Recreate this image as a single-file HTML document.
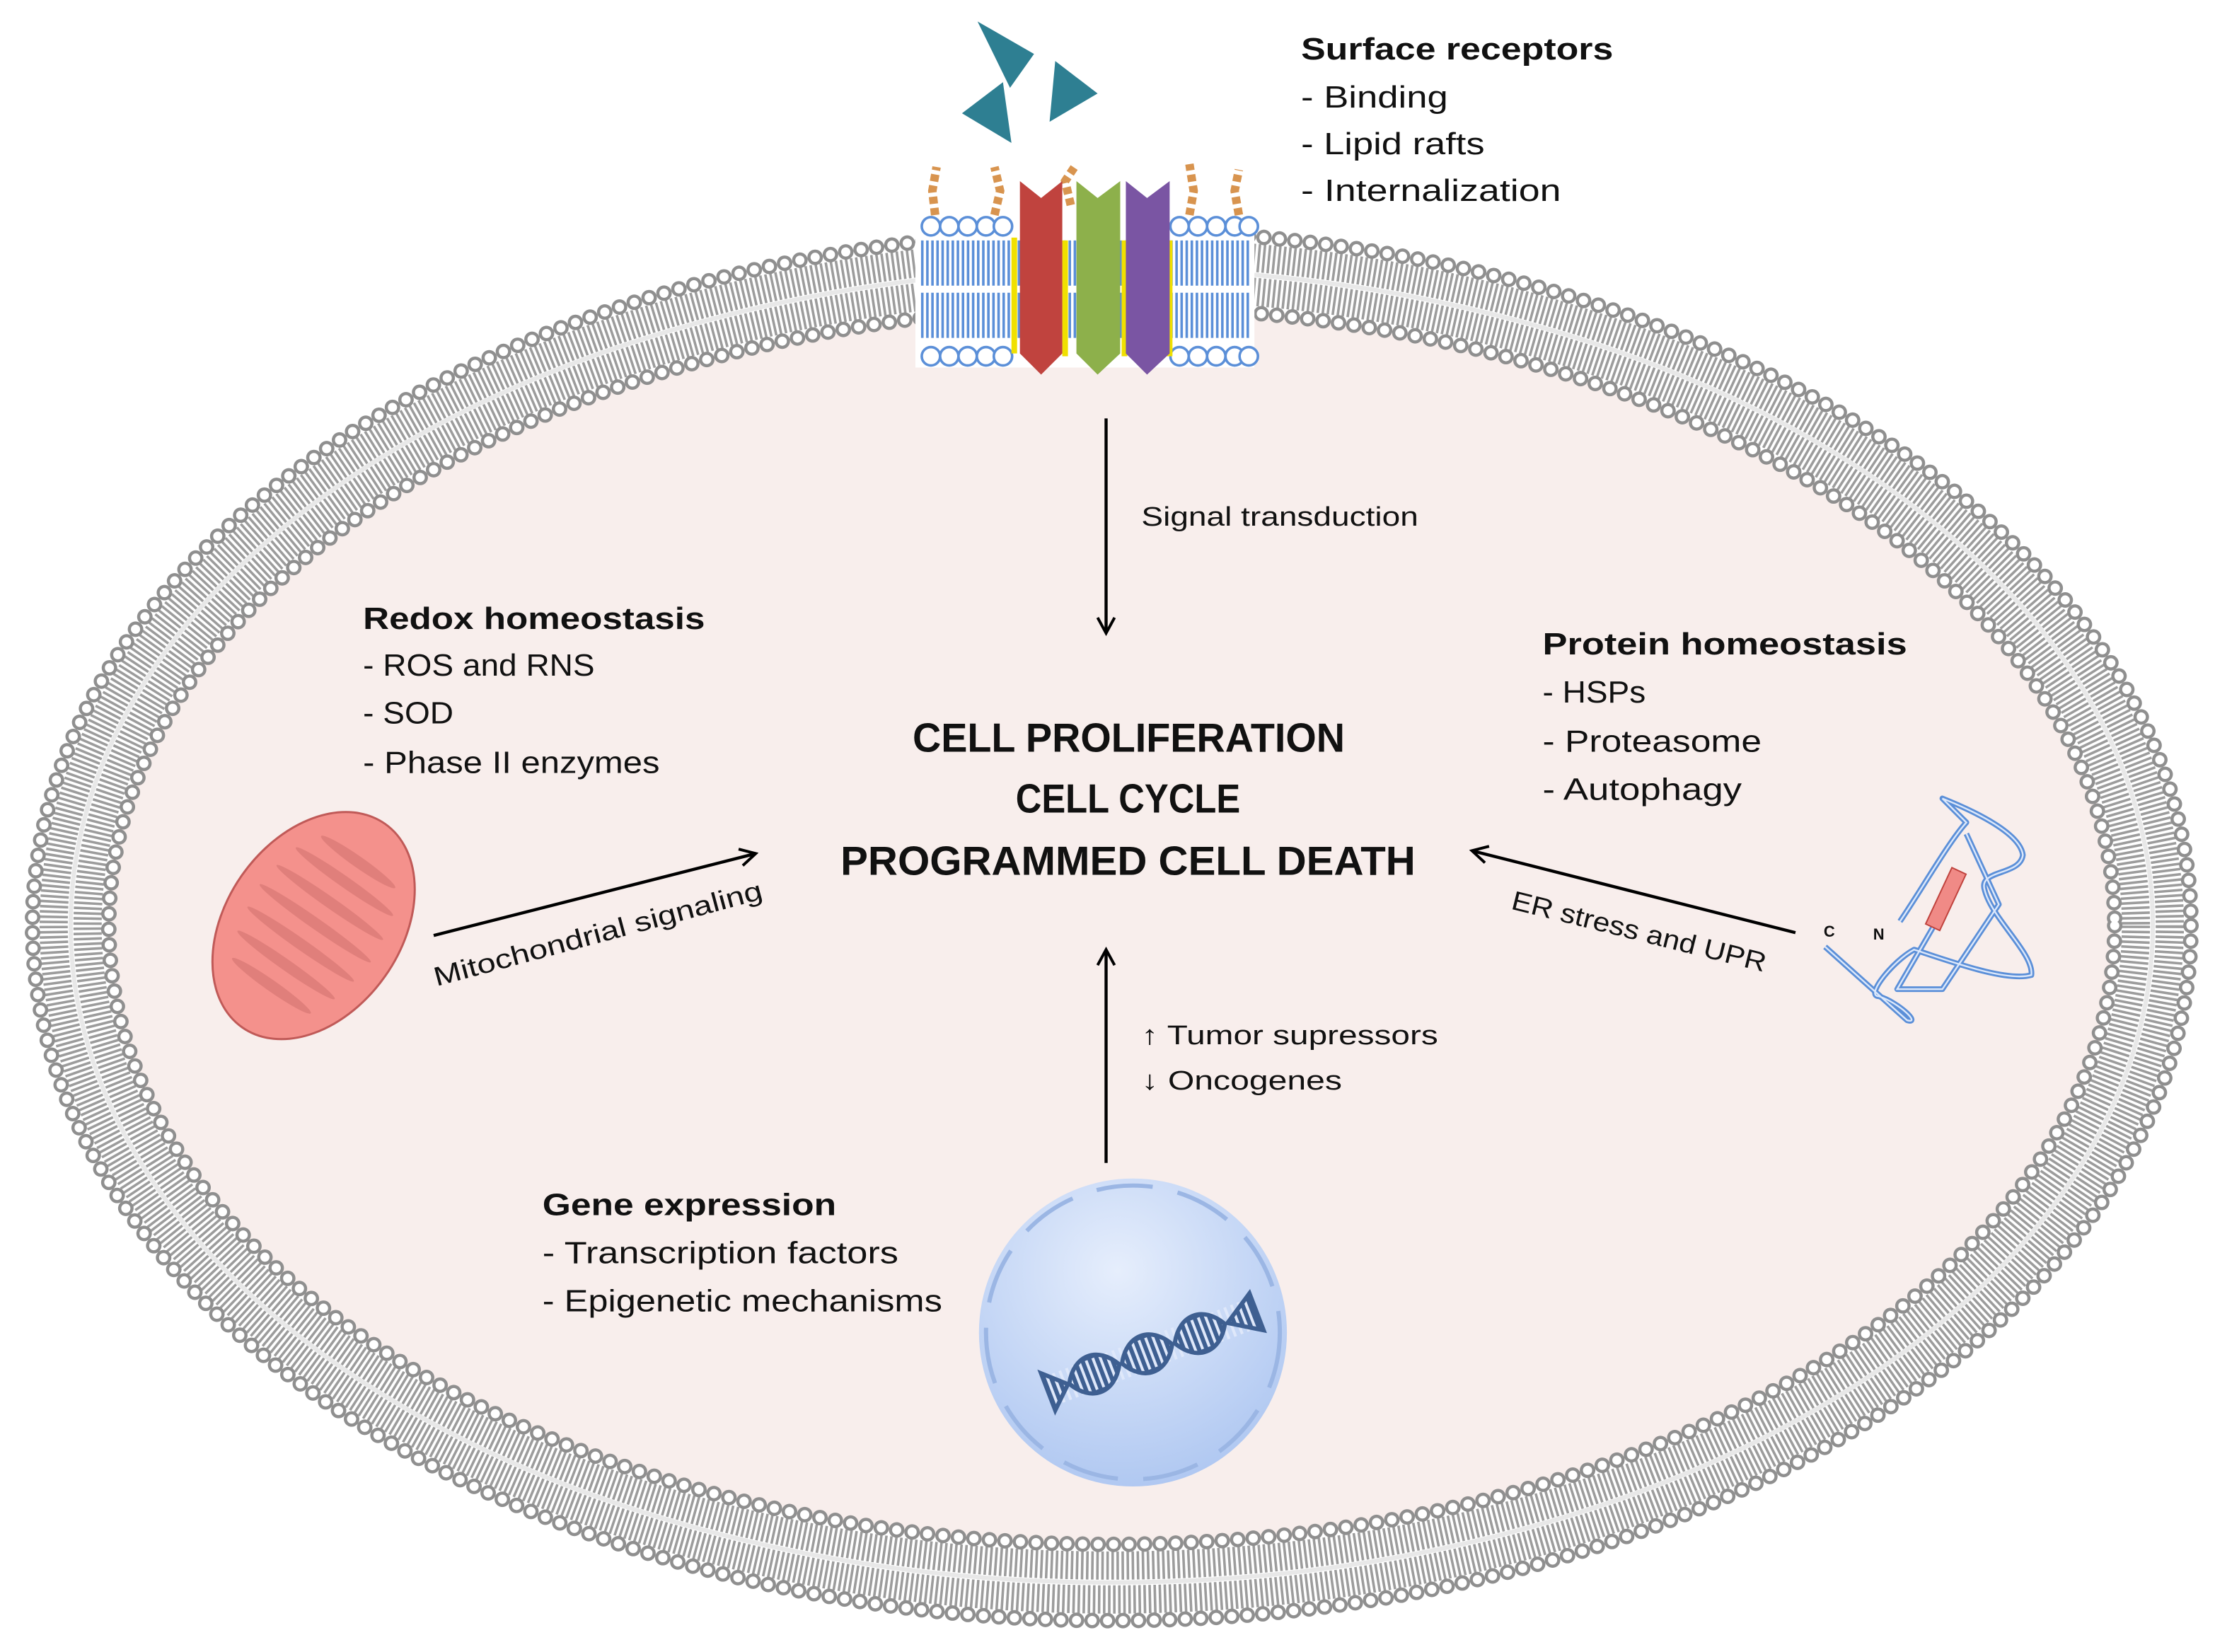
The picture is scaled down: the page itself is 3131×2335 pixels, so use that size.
<!DOCTYPE html>
<html><head><meta charset="utf-8"><style>html,body{margin:0;padding:0;background:#fff;width:3131px;height:2335px;overflow:hidden}svg{display:block}</style></head>
<body>
<svg width="3131" height="2335" viewBox="0 0 1568 1169" xmlns="http://www.w3.org/2000/svg" font-family="Liberation Sans, sans-serif">
<defs>
<radialGradient id="nuc" cx="0.45" cy="0.3" r="0.8"><stop offset="0" stop-color="#e6eefc"/><stop offset="1" stop-color="#a9c3f0"/></radialGradient>
<marker id="ah" markerWidth="14" markerHeight="14" refX="12" refY="7" orient="auto" markerUnits="userSpaceOnUse"><path d="M1,1 L12,7 L1,13" fill="none" stroke="#000" stroke-width="2"/></marker>
</defs>
<rect width="1568" height="1169" fill="#fff"/>
<!-- membrane -->
<ellipse cx="787" cy="655" rx="712" ry="440" fill="#f8eeec"/>
<g fill="none">
<ellipse cx="787" cy="655" rx="749" ry="477" stroke="#9c9c9c" stroke-width="20" stroke-dasharray="1.8 1.8"/>
<ellipse cx="787" cy="655" rx="725" ry="453" stroke="#9c9c9c" stroke-width="20" stroke-dasharray="1.8 1.8"/>
<ellipse cx="787" cy="655" rx="737" ry="465" stroke="#e8e8e8" stroke-width="3"/>
<ellipse cx="787" cy="655" rx="764" ry="492" stroke="#8f8f8f" stroke-width="11" stroke-dasharray="0 11" stroke-linecap="round"/>
<ellipse cx="787" cy="655" rx="764" ry="492" stroke="#fff" stroke-width="6.5" stroke-dasharray="0 11" stroke-linecap="round"/>
<ellipse cx="787" cy="655" rx="710" ry="438" stroke="#8f8f8f" stroke-width="11" stroke-dasharray="0 11" stroke-linecap="round"/>
<ellipse cx="787" cy="655" rx="710" ry="438" stroke="#fff" stroke-width="6.5" stroke-dasharray="0 11" stroke-linecap="round"/>
</g>
<!-- receptor patch -->
<rect x="648" y="148" width="240" height="112" fill="#fff"/>
<g fill="none" stroke="#5b8fd8">
<line x1="652" y1="186" x2="885" y2="186" stroke-width="32" stroke-dasharray="1.8 1.8"/>
<line x1="652" y1="223" x2="885" y2="223" stroke-width="32" stroke-dasharray="1.8 1.8"/>
</g>
<g fill="#fff" stroke="#5b8fd8" stroke-width="1.8">
<circle cx="659" cy="160" r="6.5"/><circle cx="672" cy="160" r="6.5"/><circle cx="685" cy="160" r="6.5"/><circle cx="698" cy="160" r="6.5"/><circle cx="710" cy="160" r="6.5"/>
<circle cx="835" cy="160" r="6.5"/><circle cx="848" cy="160" r="6.5"/><circle cx="861" cy="160" r="6.5"/><circle cx="874" cy="160" r="6.5"/><circle cx="884" cy="160" r="6.5"/>
<circle cx="659" cy="252" r="6.5"/><circle cx="672" cy="252" r="6.5"/><circle cx="685" cy="252" r="6.5"/><circle cx="698" cy="252" r="6.5"/><circle cx="710" cy="252" r="6.5"/>
<circle cx="835" cy="252" r="6.5"/><circle cx="848" cy="252" r="6.5"/><circle cx="861" cy="252" r="6.5"/><circle cx="874" cy="252" r="6.5"/><circle cx="884" cy="252" r="6.5"/>
</g>
<g stroke="#d8944f" stroke-width="6" stroke-dasharray="5 3" fill="none">
<path d="M662,152 L660,135 L663,118"/><path d="M704,152 L708,135 L704,118"/><path d="M758,145 L754,128 L762,116"/><path d="M842,152 L845,135 L842,116"/><path d="M877,152 L874,135 L877,120"/>
</g>
<rect x="716" y="168" width="4" height="82" fill="#f0e000"/><rect x="752" y="170" width="4" height="82" fill="#f0e000"/><rect x="794" y="170" width="4" height="82" fill="#f0e000"/><rect x="826" y="170" width="4" height="82" fill="#f0e000"/>
<polygon points="722,128 737,140 752,128 752,250 737,265 722,250" fill="#c0433e"/>
<polygon points="762,128 777,140 793,128 793,250 777,265 762,250" fill="#8db04b"/>
<polygon points="797,128 812,140 828,128 828,250 812,265 797,250" fill="#7a55a3"/>
<polygon points="692,15 732,38 715,62" fill="#2e7f92"/>
<polygon points="710,58 681,80 716,101" fill="#2e7f92"/>
<polygon points="747,43 777,66 743,86" fill="#2e7f92"/>
<!-- texts -->
<g fill="#111" font-size="22">
<text x="921" y="42" font-weight="bold" textLength="221" lengthAdjust="spacingAndGlyphs">Surface receptors</text>
<text x="921" y="76" textLength="104" lengthAdjust="spacingAndGlyphs">- Binding</text>
<text x="921" y="109" textLength="130" lengthAdjust="spacingAndGlyphs">- Lipid rafts</text>
<text x="921" y="142" textLength="184" lengthAdjust="spacingAndGlyphs">- Internalization</text>
<text x="257" y="445" font-weight="bold" textLength="242" lengthAdjust="spacingAndGlyphs">Redox homeostasis</text>
<text x="257" y="478" textLength="164" lengthAdjust="spacingAndGlyphs">- ROS and RNS</text>
<text x="257" y="512" textLength="64" lengthAdjust="spacingAndGlyphs">- SOD</text>
<text x="257" y="547" textLength="210" lengthAdjust="spacingAndGlyphs">- Phase II enzymes</text>
<text x="1092" y="463" font-weight="bold" textLength="258" lengthAdjust="spacingAndGlyphs">Protein homeostasis</text>
<text x="1092" y="497" textLength="73" lengthAdjust="spacingAndGlyphs">- HSPs</text>
<text x="1092" y="532" textLength="155" lengthAdjust="spacingAndGlyphs">- Proteasome</text>
<text x="1092" y="566" textLength="141" lengthAdjust="spacingAndGlyphs">- Autophagy</text>
<text x="384" y="860" font-weight="bold" textLength="208" lengthAdjust="spacingAndGlyphs">Gene expression</text>
<text x="384" y="894" textLength="252" lengthAdjust="spacingAndGlyphs">- Transcription factors</text>
<text x="384" y="928" textLength="283" lengthAdjust="spacingAndGlyphs">- Epigenetic mechanisms</text>
</g>
<g fill="#111" font-size="19">
<text x="808" y="372" textLength="196" lengthAdjust="spacingAndGlyphs">Signal transduction</text>
<text x="808" y="739" textLength="210" lengthAdjust="spacingAndGlyphs">↑ Tumor supressors</text>
<text x="808" y="771" textLength="142" lengthAdjust="spacingAndGlyphs">↓ Oncogenes</text>
<text transform="translate(309,698) rotate(-15)" textLength="240" lengthAdjust="spacingAndGlyphs">Mitochondrial signaling</text>
<text transform="translate(1069,643) rotate(14)" textLength="185" lengthAdjust="spacingAndGlyphs">ER stress and UPR</text>
</g>
<g fill="#111" font-size="29" font-weight="bold">
<text x="646" y="532" textLength="306" lengthAdjust="spacingAndGlyphs">CELL PROLIFERATION</text>
<text x="719" y="575" textLength="159" lengthAdjust="spacingAndGlyphs">CELL CYCLE</text>
<text x="595" y="619" textLength="407" lengthAdjust="spacingAndGlyphs">PROGRAMMED CELL DEATH</text>
</g>
<!-- arrows -->
<g stroke="#000" stroke-width="2.2" fill="none">
<line x1="783" y1="296" x2="783" y2="448" marker-end="url(#ah)"/>
<line x1="783" y1="823" x2="783" y2="672" marker-end="url(#ah)"/>
<line x1="307" y1="662" x2="535" y2="604" marker-end="url(#ah)"/>
<line x1="1271" y1="660" x2="1042" y2="602" marker-end="url(#ah)"/>
</g>
<!-- mitochondrion -->
<g transform="translate(222,655) rotate(35)">
<ellipse rx="62" ry="88" fill="#f4918c" stroke="#c05a58" stroke-width="1.5"/>
<g fill="#e07f7b">
<ellipse cx="0" cy="-55" rx="32" ry="4"/><ellipse cx="0" cy="-38" rx="42" ry="4"/><ellipse cx="0" cy="-20" rx="46" ry="4"/><ellipse cx="0" cy="-2" rx="48" ry="4"/><ellipse cx="0" cy="16" rx="46" ry="4"/><ellipse cx="0" cy="34" rx="42" ry="4"/><ellipse cx="0" cy="52" rx="34" ry="4"/>
</g>
</g>
<!-- protein -->
<g fill="none" stroke="#5b8fd8" stroke-width="4" stroke-linejoin="round">
<path d="M1345,652 C1360,630 1380,595 1392,582 L1375,565 C1400,575 1430,590 1432,605 C1430,620 1400,615 1405,630 C1410,650 1440,675 1438,690 C1420,695 1380,680 1355,672 C1340,680 1320,705 1330,705 C1345,710 1360,725 1350,722 L1292,670"/>
<path d="M1372,650 L1343,700 L1375,700 L1415,640 L1392,590"/>
</g>
<g fill="none" stroke="#dce8fb" stroke-width="1.2">
<path d="M1345,652 C1360,630 1380,595 1392,582 L1375,565 C1400,575 1430,590 1432,605 C1430,620 1400,615 1405,630 C1410,650 1440,675 1438,690 C1420,695 1380,680 1355,672 C1340,680 1320,705 1330,705 C1345,710 1360,725 1350,722 L1292,670"/>
<path d="M1372,650 L1343,700 L1375,700 L1415,640 L1392,590"/>
</g>
<rect x="-5" y="-22" width="11" height="44" transform="translate(1377,636) rotate(25)" fill="#f08a86" stroke="#c0433e"/>
<text x="1291" y="663" font-size="11" font-weight="bold" fill="#111">C</text>
<text x="1326" y="665" font-size="11" font-weight="bold" fill="#111">N</text>
<!-- nucleus -->
<circle cx="802" cy="943" r="109" fill="url(#nuc)"/>
<circle cx="802" cy="943" r="104" fill="none" stroke="#9bb6e4" stroke-width="3" stroke-dasharray="40 18"/>
<g transform="translate(742,985) rotate(-21)">
<path d="M0,-14 L0,14 L15,0 Z M16,0 C26,-18 44,-18 54,0 C44,18 26,18 16,0 Z M56,0 C66,-18 84,-18 94,0 C84,18 66,18 56,0 Z M96,0 C106,-18 124,-18 134,0 C124,18 106,18 96,0 Z M136,0 L158,-14 L158,14 Z" fill="#3e5f91"/>
<line x1="2" y1="0" x2="156" y2="0" stroke="#dfe8fa" stroke-width="22" stroke-dasharray="2 3"/>
<path d="M0,-14 L0,14 L15,0 Z M16,0 C26,-18 44,-18 54,0 C44,18 26,18 16,0 Z M56,0 C66,-18 84,-18 94,0 C84,18 66,18 56,0 Z M96,0 C106,-18 124,-18 134,0 C124,18 106,18 96,0 Z M136,0 L158,-14 L158,14 Z" fill="none" stroke="#3e5f91" stroke-width="3"/>
</g>
</svg>
</body></html>
